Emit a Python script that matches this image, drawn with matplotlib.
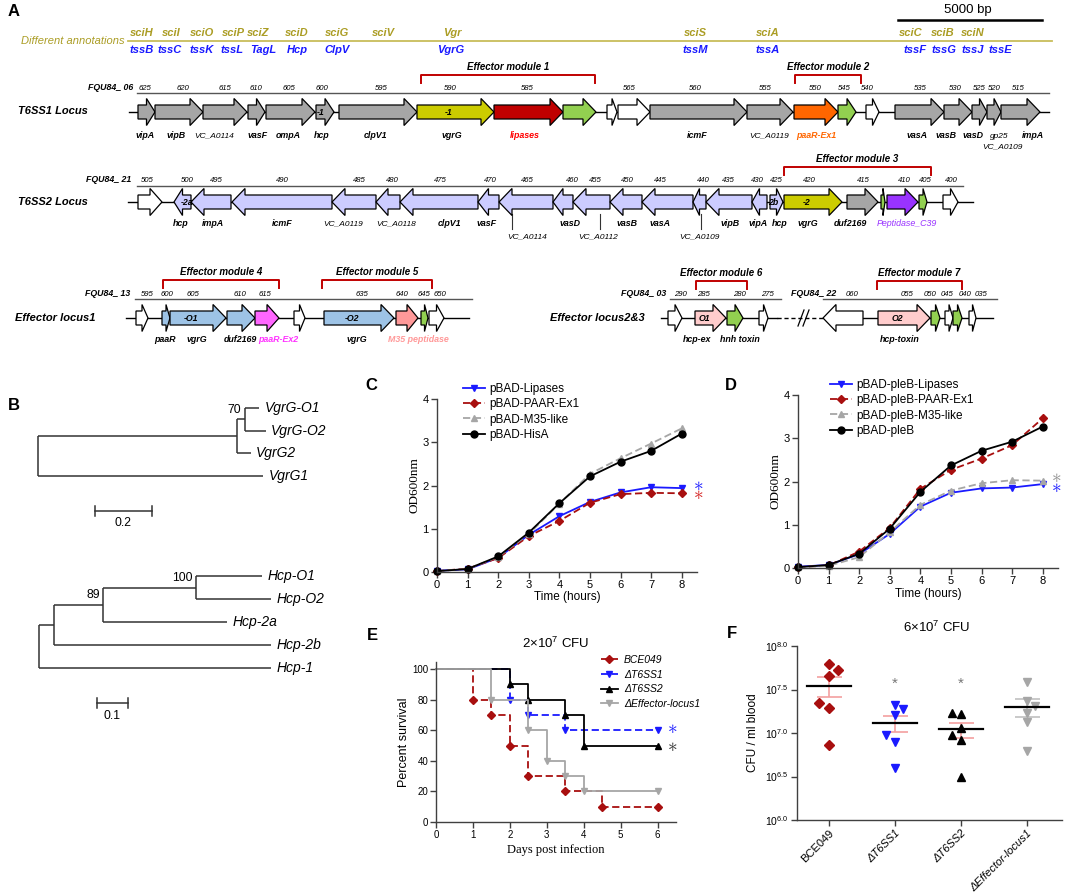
import matplotlib
matplotlib.use('Agg')
import matplotlib.pyplot as plt
from matplotlib.patches import Polygon
import numpy as np

plt.rcParams['font.family'] = ['Liberation Sans', 'DejaVu Sans']
plt.rcParams['mathtext.fontset'] = 'custom'
plt.rcParams['mathtext.rm'] = 'Liberation Sans'
plt.rcParams['mathtext.it'] = 'Liberation Sans:italic'
plt.rcParams['mathtext.bf'] = 'Liberation Sans:bold'

W, H = 1084, 894

# ---------------- panel A data (map units = pixels of the map) ----------------
# (start, end, strand, kind, tag)
t6ss1_genes = [
    (138, 155, 1, 'core', ''), (155, 203, 1, 'core', ''), (203, 247, 1, 'core', ''),
    (248, 265, 1, 'core', ''), (266, 315, 1, 'core', ''), (316, 334, 1, 'core', '-1'),
    (339, 417, 1, 'core', ''), (417, 494, 1, 'vgrg', '-1'), (494, 563, 1, 'lipase', ''),
    (563, 596, 1, 'immunity', ''), (607, 617, 1, 'other', ''), (618, 650, 1, 'other', ''),
    (650, 747, 1, 'core', ''), (747, 793, 1, 'core', ''), (794, 838, 1, 'paar1', ''),
    (838, 856, 1, 'immunity', ''), (866, 879, 1, 'other', ''), (895, 944, 1, 'core', ''),
    (944, 972, 1, 'core', ''), (972, 987, 1, 'core', ''), (987, 1001, 1, 'core', ''),
    (1001, 1040, 1, 'core', ''),
]
t6ss2_genes = [
    (138, 162, 1, 'other', ''), (174, 191, -1, 't6ss2', '-2a'), (191, 231, -1, 't6ss2', ''),
    (232, 332, -1, 't6ss2', ''), (332, 376, -1, 't6ss2', ''), (376, 400, -1, 't6ss2', ''),
    (400, 478, -1, 't6ss2', ''), (478, 499, -1, 't6ss2', ''), (499, 553, -1, 't6ss2', ''),
    (553, 573, -1, 't6ss2', ''), (573, 610, -1, 't6ss2', ''), (610, 642, -1, 't6ss2', ''),
    (642, 693, -1, 't6ss2', ''), (693, 706, -1, 't6ss2', ''), (706, 752, -1, 't6ss2', ''),
    (752, 767, -1, 't6ss2', ''), (770, 783, 1, 't6ss2', '2b'), (784, 842, 1, 'vgrg', '-2'),
    (847, 878, 1, 'core', ''), (881, 885, 1, 'immunity', ''), (887, 918, 1, 'pep', ''),
    (919, 927, 1, 'immunity', ''), (943, 958, 1, 'other', ''),
]
locus1_genes = [
    (136, 148, 1, 'other', ''), (162, 170, 1, 'orphan', ''), (170, 226, 1, 'orphan', '-O1'),
    (227, 255, 1, 'orphan', ''), (255, 279, 1, 'paar2', ''), (294, 305, 1, 'other', ''),
    (324, 394, 1, 'orphan', '-O2'), (396, 418, 1, 'm35', ''), (421, 428, 1, 'immunity', ''),
    (429, 444, 1, 'other', ''),
]
locus23_genes = [
    (668, 682, 1, 'other', ''), (695, 726, 1, 'hcpx', 'O1'), (727, 743, 1, 'immunity', ''),
    (759, 768, 1, 'other', ''), (823, 863, -1, 'other', ''), (878, 930, 1, 'hcpx', 'O2'),
    (931, 940, 1, 'immunity', ''), (945, 953, 1, 'other', ''), (953, 962, 1, 'immunity', ''),
    (969, 976, 1, 'other', ''),
]

# rulers: (prefix, prefix right edge, line start, line end, [(x, number)])
t6ss1_ruler = ('FQU84_ 06', 133, 137, 1049, [
    (145, '625'), (183, '620'), (225, '615'), (256, '610'), (289, '605'), (322, '600'),
    (381, '595'), (450, '590'), (527, '585'), (629, '565'), (695, '560'), (765, '555'),
    (815, '550'), (844, '545'), (867, '540'), (920, '535'), (955, '530'), (979, '525'),
    (994, '520'), (1018, '515')])
t6ss2_ruler = ('FQU84_ 21', 131, 137, 963, [
    (147, '505'), (187, '500'), (216, '495'), (282, '490'), (359, '485'), (392, '480'),
    (440, '475'), (490, '470'), (527, '465'), (572, '460'), (595, '455'), (627, '450'),
    (660, '445'), (703, '440'), (728, '435'), (757, '430'), (776, '425'), (809, '420'),
    (863, '415'), (904, '410'), (925, '405'), (951, '400')])
locus1_ruler = ('FQU84_ 13', 130, 135, 472, [
    (147, '595'), (167, '600'), (193, '605'), (240, '610'), (265, '615'), (362, '635'),
    (402, '640'), (424, '645'), (440, '650')])
locus2_ruler = ('FQU84_ 03', 666, 670, 781, [(680, '290'), (703, '285'), (739, '280'), (767, '275')])
locus3_ruler = ('FQU84_ 22', 836, 823, 997, [
    (852, '060'), (907, '055'), (930, '050'), (947, '045'), (965, '040'), (981, '035')])

# gene names under the loci: (x, text, kind)
t6ss1_names = [
    (145, 'vipA', 'g'), (176, 'vipB', 'g'), (214, 'VC_A0114', 'n'), (258, 'vasF', 'g'),
    (288, 'ompA', 'g'), (322, 'hcp', 'g'), (375, 'clpV1', 'g'), (452, 'vgrG', 'g'),
    (525, 'lipases', 'lipase'), (697, 'icmF', 'g'), (769, 'VC_A0119', 'n'),
    (816, 'paaR-Ex1', 'paar1'), (917, 'vasA', 'g'), (946, 'vasB', 'g'), (973, 'vasD', 'g'),
    (999, 'gp25', 'n'), (1033, 'impA', 'g')]
t6ss2_names = [
    (181, 'hcp', 'g'), (213, 'impA', 'g'), (282, 'icmF', 'g'), (343, 'VC_A0119', 'n'),
    (396, 'VC_A0118', 'n'), (449, 'clpV1', 'g'), (487, 'vasF', 'g'), (570, 'vasD', 'g'),
    (627, 'vasB', 'g'), (660, 'vasA', 'g'), (730, 'vipB', 'g'), (758, 'vipA', 'g'),
    (780, 'hcp', 'g'), (808, 'vgrG', 'g'), (850, 'duf2169', 'g'), (907, 'Peptidase_C39', 'pep')]
t6ss2_leader_names = [(512, 527, 'VC_A0114'), (600, 598, 'VC_A0112'), (701, 699, 'VC_A0109')]
locus1_names = [
    (165, 'paaR', 'g'), (197, 'vgrG', 'g'), (240, 'duf2169', 'g'), (278, 'paaR-Ex2', 'paar2'),
    (357, 'vgrG', 'g'), (418, 'M35 peptidase', 'm35')]
locus23_names = [(697, 'hcp-ex', 'g'), (740, 'hnh toxin', 'g'), (900, 'hcp-toxin', 'g')]

# effector modules: (start, end, row top, label)
modules = [
    (421, 595, 75, 'Effector module 1'), (795, 861, 75, 'Effector module 2'),
    (784, 931, 167, 'Effector module 3'), (163, 279, 280, 'Effector module 4'),
    (322, 432, 280, 'Effector module 5'), (696, 747, 281, 'Effector module 6'),
    (877, 962, 281, 'Effector module 7')]

# alternative annotations: (x, name)
annot_sci = [(142, 'sciH'), (171, 'sciI'), (202, 'sciO'), (233, 'sciP'), (258, 'sciZ'),
             (297, 'sciD'), (337, 'sciG'), (383, 'sciV'), (452, 'Vgr'), (695, 'sciS'),
             (768, 'sciA'), (911, 'sciC'), (943, 'sciB'), (973, 'sciN')]
annot_tss = [(142, 'tssB'), (170, 'tssC'), (202, 'tssK'), (232, 'tssL'), (263, 'TagL'),
             (297, 'Hcp'), (337, 'ClpV'), (451, 'VgrG'), (695, 'tssM'), (768, 'tssA'),
             (915, 'tssF'), (944, 'tssG'), (973, 'tssJ'), (1000, 'tssE')]

# ---------------- panel B trees: leaf (name, length) / node (children, length, support)
vgrg_tree = ([([([('VgrG-O1', 0.050), ('VgrG-O2', 0.074)], 0.025, '70'),
                ('VgrG2', 0.046)], 0.70, ''),
              ('VgrG1', 0.79)], 0.0, '')
hcp_tree = ([([([([('Hcp-O1', 0.21), ('Hcp-O2', 0.24)], 0.30, '100'),
                 ('Hcp-2a', 0.40)], 0.16, '89'),
               ('Hcp-2b', 0.70)], 0.048, ''),
             ('Hcp-1', 0.75)], 0.0, '')

# ---------------- panels C, D: growth curves
hours = [0, 1, 2, 3, 4, 5, 6, 7, 8]
c_labels = ['pBAD-Lipases', 'pBAD-PAAR-Ex1', 'pBAD-M35-like', 'pBAD-HisA']
c_lipases = [0.03, 0.06, 0.33, 0.86, 1.29, 1.62, 1.84, 1.96, 1.94]
c_paar = [0.02, 0.08, 0.32, 0.83, 1.18, 1.60, 1.80, 1.83, 1.82]
c_m35 = [0.02, 0.07, 0.35, 0.88, 1.58, 2.27, 2.63, 2.97, 3.32]
c_hisa = [0.02, 0.07, 0.36, 0.91, 1.59, 2.21, 2.55, 2.80, 3.20]
d_labels = ['pBAD-pleB-Lipases', 'pBAD-pleB-PAAR-Ex1', 'pBAD-pleB-M35-like', 'pBAD-pleB']
d_lipases = [0.03, 0.07, 0.32, 0.79, 1.42, 1.74, 1.84, 1.86, 1.94]
d_paar = [0.02, 0.06, 0.38, 0.93, 1.83, 2.27, 2.53, 2.84, 3.46]
d_m35 = [0.02, 0.05, 0.25, 0.83, 1.46, 1.79, 1.96, 2.03, 2.02]
d_pleb = [0.02, 0.07, 0.33, 0.91, 1.76, 2.37, 2.71, 2.92, 3.27]

# ---------------- panel E: survival
e_labels = ['BCE049', 'ΔT6SS1', 'ΔT6SS2', 'ΔEffector-locus1']
e_bce_t = [0, 1, 1.5, 2, 2.5, 3.5, 4.5, 6]
e_bce_s = [100, 80, 70, 50, 30, 20, 10, 10]
e_t6ss1_t = [0, 2, 2.5, 3.5, 6]
e_t6ss1_s = [100, 80, 70, 60, 60]
e_t6ss2_t = [0, 2, 2.5, 3.5, 4, 6]
e_t6ss2_s = [100, 90, 80, 70, 50, 50]
e_eff_t = [0, 1.5, 2.5, 3, 3.5, 4, 6]
e_eff_s = [100, 80, 60, 40, 30, 20, 20]

# ---------------- panel F: bacteraemia, log10 CFU / ml
f_groups = ['BCE049', 'ΔT6SS1', 'ΔT6SS2', 'ΔEffector-locus1']
f_bce = [7.79, 7.72, 7.66, 7.34, 7.29, 6.86]
f_t6ss1 = [7.32, 7.28, 7.21, 6.98, 6.90, 6.60]
f_t6ss2 = [7.23, 7.22, 7.06, 6.98, 6.92, 6.50]
f_eff = [7.59, 7.37, 7.31, 7.23, 7.13, 6.79]
f_jitter = [[0, .14, 0, -.14, 0, 0], [0, .12, 0, -.14, 0, 0],
            [-.14, 0, 0, -.14, 0, 0], [0, 0, .12, 0, 0, 0]]

# ---------------- styles
GENE_COLORS = {'core': '#a6a6a6', 'vgrg': '#cccc00', 'lipase': '#c00000', 'immunity': '#92d050',
               'other': 'white', 'paar1': '#ff6600', 't6ss2': '#ccccff', 'pep': '#9933ff',
               'orphan': '#9dc3e6', 'paar2': '#ff66ff', 'm35': '#ff9999', 'hcpx': '#ffcccc'}
NAME_COLORS = {'lipase': '#ff0000', 'paar1': '#ff6600', 'pep': '#9933ff',
               'paar2': '#ff33ff', 'm35': '#ff9999'}
OLIVE = '#ab9d25'
BLUE = '#1a1aff'
DRED = '#a80f0f'
LGRAY = '#a6a6a6'
AXC = '#404040'

fig = plt.figure(figsize=(W / 100, H / 100), dpi=100)
canvas = fig.add_axes([0, 0, 1, 1])
canvas.set_xlim(0, W)
canvas.set_ylim(H, 0)
canvas.axis('off')


def px_rect(l, t, r, b):
    return [l / W, 1 - b / H, (r - l) / W, (b - t) / H]


def draw_gene(ax, x0, x1, y, strand, kind, tag):
    head = min(13.0, 0.5 * (x1 - x0))
    bh, hh = 7.0, 13.5
    if strand > 0:
        nk = x1 - head
        pts = [(x0, y - bh), (nk, y - bh), (nk, y - hh), (x1, y), (nk, y + hh), (nk, y + bh), (x0, y + bh)]
        xc = (x0 + nk) / 2
    else:
        nk = x0 + head
        pts = [(x1, y - bh), (nk, y - bh), (nk, y - hh), (x0, y), (nk, y + hh), (nk, y + bh), (x1, y + bh)]
        xc = (x1 + nk) / 2
    ax.add_patch(Polygon(pts, closed=True, fc=GENE_COLORS[kind], ec='black', lw=0.9,
                         joinstyle='miter', zorder=3))
    if tag:
        ax.text(xc, y + 0.5, tag, ha='center', va='center', fontsize=6.3,
                fontweight='bold', style='italic', zorder=4)


def draw_locus(ax, y, genes, segments):
    for x0, x1, ls in segments:
        ax.plot([x0, x1], [y, y], color='black', lw=1.0, ls=ls, zorder=2)
    for g in genes:
        draw_gene(ax, g[0], g[1], y, g[2], g[3], g[4])


def draw_ruler(ax, y, ruler):
    prefix, xp, x0, x1, nums = ruler
    ax.plot([x0, x1], [y, y], color='#555555', lw=1.0, zorder=2)
    ax.text(xp, y - 1.5, prefix, ha='right', va='bottom', fontsize=6.3,
            fontweight='bold', style='italic')
    for x, n in nums:
        ax.text(x, y - 1.5, n, ha='center', va='bottom', fontsize=5.6, style='italic')


def draw_names(ax, y, names):
    for x, t, k in names:
        if k == 'g':
            ax.text(x, y, t, ha='center', va='center', fontsize=6.4, fontweight='bold', style='italic')
        elif k == 'n':
            ax.text(x, y, t, ha='center', va='center', fontsize=6.0, style='italic')
        elif k == 'pep':
            ax.text(x, y, t, ha='center', va='center', fontsize=6.4, style='italic', color=NAME_COLORS[k])
        else:
            ax.text(x, y, t, ha='center', va='center', fontsize=6.4, fontweight='bold',
                    style='italic', color=NAME_COLORS[k])


# ---------------- panel A
canvas.text(8, 12, 'A', fontsize=12, fontweight='bold', va='center')
canvas.text(125, 41, 'Different annotations', ha='right', va='center', fontsize=8,
            style='italic', color=OLIVE)
canvas.plot([128, 1052], [41, 41], color='#c8bd5a', lw=1.3)
for x, t in annot_sci:
    canvas.text(x, 33, t, ha='center', va='center', fontsize=8, style='italic',
                fontweight='bold', color=OLIVE)
for x, t in annot_tss:
    canvas.text(x, 50, t, ha='center', va='center', fontsize=8, style='italic',
                fontweight='bold', color=BLUE)
canvas.text(968, 10, '5000 bp', ha='center', va='center', fontsize=9.5)
canvas.plot([898, 1042], [20, 20], color='black', lw=1.8)

for x0, x1, top, label in modules:
    canvas.plot([x0, x0, x1, x1], [top + 8, top, top, top + 8], color='#c00000', lw=1.4)
    canvas.text((x0 + x1) / 2, top - 8, label, ha='center', va='center', fontsize=7,
                fontweight='bold', style='italic')

for y, name, x in [(111, 'T6SS1 Locus', 18), (202, 'T6SS2 Locus', 18),
                   (318, 'Effector locus1', 15), (318, 'Effector locus2&3', 550)]:
    canvas.text(x, y, name, ha='left', va='center', fontsize=8, fontweight='bold', style='italic')

draw_ruler(canvas, 93, t6ss1_ruler)
draw_locus(canvas, 112, t6ss1_genes, [(129, 1049, '-')])
draw_names(canvas, 136, t6ss1_names)
canvas.text(1002, 147, 'VC_A0109', ha='center', va='center', fontsize=6.0, style='italic')

draw_ruler(canvas, 186, t6ss2_ruler)
draw_locus(canvas, 202, t6ss2_genes, [(128, 973, '-')])
draw_names(canvas, 224, t6ss2_names)
for xl, xt, t in t6ss2_leader_names:
    canvas.plot([xl, xl], [214, 229], color='#333333', lw=0.8)
    canvas.text(xt, 237, t, ha='center', va='center', fontsize=6.0, style='italic')

draw_ruler(canvas, 299, locus1_ruler)
draw_locus(canvas, 318, locus1_genes, [(126, 469, '-')])
draw_names(canvas, 339, locus1_names)

draw_ruler(canvas, 299, locus2_ruler)
draw_ruler(canvas, 299, locus3_ruler)
draw_locus(canvas, 318, locus23_genes, [(661, 777, '-'), (777, 823, (0, (3, 2))), (863, 993, '-')])
canvas.plot([798, 804], [326, 310], color='black', lw=0.9)
canvas.plot([803, 809], [326, 310], color='black', lw=0.9)
draw_names(canvas, 340, locus23_names)


# ---------------- panel B
def draw_tree(ax, node, x0, counter):
    if isinstance(node[0], str):
        name, bl = node
        y = counter[0]
        counter[0] += 1
        ax.plot([x0, x0 + bl], [y, y], color='#333333', lw=1.1, solid_capstyle='butt')
        ax.annotate(name, (x0 + bl, y), xytext=(4, 0), textcoords='offset points',
                    ha='left', va='center', fontsize=10, style='italic')
        return y
    children, bl, sup = node
    x1 = x0 + bl
    ys = [draw_tree(ax, c, x1, counter) for c in children]
    y = (min(ys) + max(ys)) / 2
    ax.plot([x0, x1], [y, y], color='#333333', lw=1.1, solid_capstyle='butt')
    ax.plot([x1, x1], [min(ys), max(ys)], color='#333333', lw=1.1, solid_capstyle='butt')
    if sup:
        ax.annotate(sup, (x1, y), xytext=(-2.5, 7), textcoords='offset points',
                    ha='right', va='center', fontsize=8.8)
    return y


canvas.text(8, 405, 'B', fontsize=12, fontweight='bold', va='center')
axT1 = fig.add_axes(px_rect(20, 395, 340, 530))
axT1.set_xlim(-18 / 285, 302 / 285)
axT1.set_ylim(5.374, -0.573)
axT1.axis('off')
draw_tree(axT1, vgrg_tree, 0.0, [0])
axT1.plot([0.2, 0.4], [4.54, 4.54], color='#333333', lw=1.1)
for xb in (0.2, 0.4):
    axT1.plot([xb, xb], [4.32, 4.76], color='#333333', lw=1.1)
axT1.text(0.3, 5.07, '0.2', ha='center', va='center', fontsize=8.8)

axT2 = fig.add_axes(px_rect(20, 560, 340, 725))
axT2.set_xlim(-19 / 310, 301 / 310)
axT2.set_ylim(6.478, -0.696)
axT2.axis('off')
draw_tree(axT2, hcp_tree, 0.0, [0])
axT2.plot([0.187, 0.287], [5.52, 5.52], color='#333333', lw=1.1)
for xb in (0.187, 0.287):
    axT2.plot([xb, xb], [5.3, 5.74], color='#333333', lw=1.1)
axT2.text(0.237, 6.09, '0.1', ha='center', va='center', fontsize=8.8)


def prism(ax, size=8, pad=2):
    for s in ['top', 'right']:
        ax.spines[s].set_visible(False)
    for s in ['left', 'bottom']:
        ax.spines[s].set_color(AXC)
        ax.spines[s].set_linewidth(1.0)
    ax.tick_params(direction='out', length=4, width=1.0, color=AXC, labelsize=size, pad=pad)


growth_styles = [(BLUE, '-', 'v', 5), (DRED, '--', 'D', 4.2), (LGRAY, '--', '^', 5), ('black', '-', 'o', 5)]


def growth(ax, series, labels, legend_xy):
    for ys, lab, (c, ls, m, ms) in zip(series, labels, growth_styles):
        ax.plot(hours, ys, color=c, ls=ls, marker=m, ms=ms, lw=1.3, label=lab,
                clip_on=False, dashes=(4, 2) if ls == '--' else (None, None))
    ax.set_xlim(0, 8.5)
    ax.set_ylim(0, 4)
    ax.set_xticks(range(0, 9))
    ax.set_yticks(range(0, 5))
    prism(ax, 8)
    ax.set_xlabel('Time (hours)', fontsize=8.5)
    ax.set_ylabel('OD600nm', fontsize=9.5, family='Liberation Serif')
    ax.legend(loc='upper left', bbox_to_anchor=legend_xy, bbox_transform=fig.transFigure,
              frameon=False, fontsize=8.5, handlelength=1.9, handletextpad=0.35,
              labelspacing=0.28, borderpad=0, borderaxespad=0)


def star(ax, x, y, color, size=14):
    # math asterisk: centred glyph
    ax.text(x, y, r'$\ast$', color=color, fontsize=size, ha='center', va='center', clip_on=False)


# ---------------- panel C
canvas.text(365, 385, 'C', fontsize=12, fontweight='bold', va='center')
axC = fig.add_axes(px_rect(437, 399, 697, 572))
growth(axC, [c_lipases, c_paar, c_m35, c_hisa], c_labels, (463 / W, 1 - 383 / H))
axC.yaxis.set_label_coords(-0.065, 0.5)
axC.xaxis.set_label_coords(0.5, -0.11)
star(axC, 8.53, 2.01, BLUE)
star(axC, 8.53, 1.79, '#d42020')

# ---------------- panel D
canvas.text(725, 385, 'D', fontsize=12, fontweight='bold', va='center')
axD = fig.add_axes(px_rect(798, 395, 1058, 568))
growth(axD, [d_lipases, d_paar, d_m35, d_pleb], d_labels, (830 / W, 1 - 379 / H))
axD.yaxis.set_label_coords(-0.065, 0.5)
axD.xaxis.set_label_coords(0.5, -0.115)
star(axD, 8.43, 2.10, '#909090')
star(axD, 8.43, 1.87, BLUE)

# ---------------- panel E
canvas.text(367, 635, 'E', fontsize=12, fontweight='bold', va='center')
axE = fig.add_axes(px_rect(436, 662, 676, 822))
surv_styles = [(DRED, '--', 'D', 4.2), (BLUE, '--', 'v', 5), ('black', '-', '^', 5), (LGRAY, '-', 'v', 5)]
for (t, s), lab, (c, ls, m, ms) in zip([(e_bce_t, e_bce_s), (e_t6ss1_t, e_t6ss1_s),
                                        (e_t6ss2_t, e_t6ss2_s), (e_eff_t, e_eff_s)],
                                       e_labels, surv_styles):
    axE.plot(t, s, drawstyle='steps-post', color=c, ls=ls, lw=1.3, marker=m, ms=ms,
             markevery=list(range(1, len(t))), label=lab, clip_on=False,
             dashes=(4, 2) if ls == '--' else (None, None))
axE.set_xlim(0, 6.5)
axE.set_ylim(0, 104.6)
axE.set_xticks(range(0, 7))
axE.set_yticks(range(0, 101, 20))
prism(axE, 7, pad=1.5)
axE.set_xlabel('Days post infection', fontsize=9, family='Liberation Serif')
axE.set_ylabel('Percent survival', fontsize=9)
axE.yaxis.set_label_coords(-0.11, 0.5)
axE.xaxis.set_label_coords(0.5, -0.135)
axE.text(0.5, 1 + (662 - 643) / 160, r'2$\times$10$^7$ CFU', transform=axE.transAxes,
         ha='center', va='center', fontsize=9.5)
axE.legend(loc='upper left', bbox_to_anchor=(601 / W, 1 - 655 / H), bbox_transform=fig.transFigure,
           frameon=False, prop={'style': 'italic', 'size': 7.5}, handlelength=1.6,
           handletextpad=0.6, labelspacing=0.45, borderpad=0, borderaxespad=0)
star(axE, 6.4, 61.0, BLUE, 14)
star(axE, 6.4, 49.5, '#333333', 14)

# ---------------- panel F
canvas.text(727, 633, 'F', fontsize=12, fontweight='bold', va='center')
axF = fig.add_axes(px_rect(797, 646, 1062, 820))
f_styles = [(DRED, 'D', 5.5, '#f4a0a0'), (BLUE, 'v', 6, '#f4a0a0'),
            ('black', '^', 6, '#f4a0a0'), (LGRAY, 'v', 6, '#c0c0c0')]
for i, (vals, jit, (c, m, ms, ec)) in enumerate(zip([f_bce, f_t6ss1, f_t6ss2, f_eff], f_jitter, f_styles)):
    lin = 10 ** np.array(vals)
    axF.plot(i + np.array(jit), lin, ls='none', marker=m, ms=ms, color=c, zorder=3)
    mean = lin.mean()
    sem = lin.std(ddof=1) / np.sqrt(len(lin))
    axF.errorbar([i], [mean], yerr=[[sem], [sem]], fmt='none', ecolor=ec, elinewidth=1.2,
                 capsize=9, capthick=1.2, zorder=2)
    axF.plot([i - 0.33, i + 0.33], [mean, mean], color='black', lw=1.6, zorder=4)
for i in (1, 2):
    axF.text(i, 10 ** 7.56, '*', color='#777777', fontsize=11, ha='center', va='center')
axF.set_yscale('log')
axF.set_ylim(1e6, 1e8)
axF.set_xlim(-0.48, 3.53)
axF.set_yticks([1e6, 10 ** 6.5, 1e7, 10 ** 7.5, 1e8])
axF.set_yticklabels([r'$10^{6.0}$', r'$10^{6.5}$', r'$10^{7.0}$', r'$10^{7.5}$', r'$10^{8.0}$'])
axF.yaxis.set_minor_locator(matplotlib.ticker.NullLocator())
axF.set_xticks(range(4))
axF.set_xticklabels(f_groups, rotation=45, ha='right', rotation_mode='anchor')
prism(axF, 8)
axF.tick_params(axis='y', labelsize=7.5)
for lab in axF.get_xticklabels()[1:]:
    lab.set_style('italic')
axF.set_ylabel('CFU / ml blood', fontsize=8.5)
axF.yaxis.set_label_coords(-0.145, 0.5)
axF.text(0.528, 1 + (646 - 627) / 174, r'6$\times$10$^7$ CFU', transform=axF.transAxes,
         ha='center', va='center', fontsize=9.5)

fig.savefig('out.png', dpi=100)
